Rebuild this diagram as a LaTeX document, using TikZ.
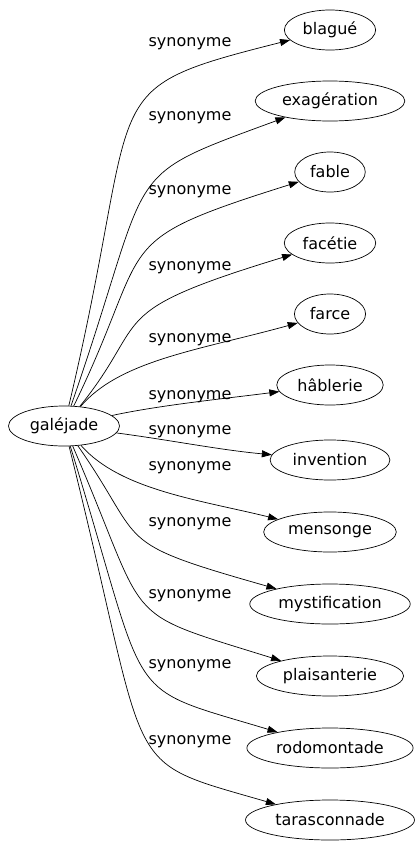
\documentclass[tikz,border=0pt]{standalone}
\usepackage{fontspec}
\setmainfont{DejaVu Sans}
\usetikzlibrary{shapes.geometric,arrows.meta}
\tikzset{
  word/.style={draw, line width=0.7pt, ellipse, inner xsep=5pt, inner ysep=1pt, minimum height=40pt, font=\fontsize{16}{18}\selectfont},
  rel/.style={line width=0.7pt, -{Triangle[length=10pt,width=7pt]}},
  rellabel/.style={font=\fontsize{16}{18}\selectfont}
}
\begin{document}
\begin{tikzpicture}[x=1pt,y=-1pt]
\useasboundingbox (0,0) rectangle (418,851);

% Centre word
\node[word] (galejade) at (64,426) {galéjade};

% Synonyms: name/text/node y/label y/first control/second control
\foreach \name/\txt/\ny/\ly/\ax/\ay/\bx/\by in {
  blague/blagué/30/44/145/85/88/91,
  exageration/exagération/101/118/156/161/115/180,
  fable/fable/172/192/155/239/104/243,
  facetie/facétie/243/268/152/317/100/313,
  farce/farce/314/340/120/360/200/350,
  hablerie/hâblerie/385/397/160/405/230/398,
  invention/invention/460/432/170/440/220/450,
  mensonge/mensonge/532/468/120/490/200/500,
  mystification/mystification/604/524/148/546/108/541,
  plaisanterie/plaisanterie/676/596/152/629/115/609,
  rodomontade/rodomontade/748/666/152/710/118/684,
  tarasconnade/tarasconnade/820/742/153/782/116/758} {
  \node[word] (\name) at (330,\ny) {\txt};
  \draw[rel] (galejade) .. controls (\ax,\ay) and (\bx,\by) .. (\name);
  \node[rellabel] (lab-\name) at (190,\ly) {synonyme};
}

\end{tikzpicture}
\end{document}
